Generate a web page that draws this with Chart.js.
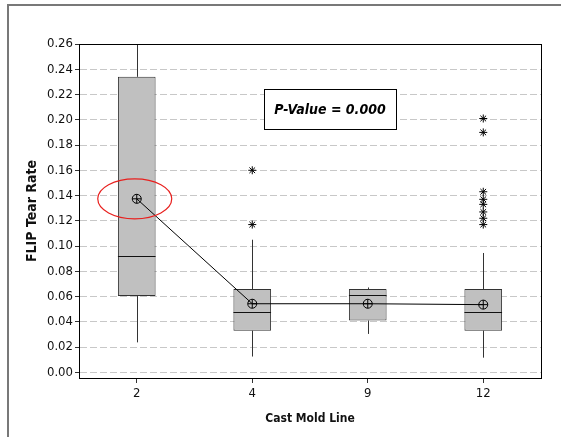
<!DOCTYPE html>
<html>
<head>
<meta charset="utf-8">
<script src="https://cdn.jsdelivr.net/npm/chart.js@4/dist/chart.umd.min.js"></script>
<style>
  html, body { margin: 0; padding: 0; background: #fff; }
  #wrap { width: 561px; height: 437px; }
</style>
</head>
<body>
<div id="wrap"><canvas id="myChart" width="561" height="437"></canvas></div>
<script>
// data
var categories = ['2', '4', '9', '12'];
var q1 = [0.0604, 0.033, 0.041, 0.033];
var q3 = [0.234, 0.066, 0.066, 0.066];
var medians = [0.092, 0.0475, 0.061, 0.0475];
var whiskerLow = [0.0237, 0.0125, 0.0304, 0.0116];
var whiskerHigh = [0.30, 0.105, 0.0672, 0.0945];
var means = [0.1374, 0.0543, 0.0543, 0.0536];
var outlierCats = ['4', '4', '12', '12', '12', '12', '12', '12', '12', '12'];
var outlierVals = [0.160, 0.117, 0.201, 0.190, 0.143, 0.137, 0.133, 0.127, 0.122, 0.117];
var yTickValues = [0, 0.02, 0.04, 0.06, 0.08, 0.10, 0.12, 0.14, 0.16, 0.18, 0.20, 0.22, 0.24, 0.26];
var pValueText = 'P-Value = 0.000';

var FONT = "'DejaVu Sans Condensed', 'DejaVu Sans', sans-serif";

var boxes = [];
var outliers = [];
for (var i = 0; i < categories.length; i++) {
    boxes.push([q1[i], q3[i]]);
}
for (var i = 0; i < outlierVals.length; i++) {
    outliers.push({x: outlierCats[i], y: outlierVals[i]});
}

var boxExtras = {
    id: 'boxExtras',
    beforeDraw: function(chart) {
        var ctx = chart.ctx;
        ctx.save();
        // outer frame (only top and left edges are visible)
        ctx.strokeStyle = '#787878';
        ctx.lineWidth = 2;
        ctx.beginPath();
        ctx.moveTo(8, chart.height);
        ctx.lineTo(8, 5);
        ctx.lineTo(chart.width, 5);
        ctx.stroke();
        ctx.restore();
    },
    afterDatasetDraw: function(chart, args) {
        if (args.index !== 0) return;
        var ctx = chart.ctx;
        var y = chart.scales.y;
        var area = chart.chartArea;
        ctx.save();
        ctx.beginPath();
        ctx.rect(area.left, area.top, area.right - area.left, area.bottom - area.top);
        ctx.clip();
        ctx.lineWidth = 1;
        args.meta.data.forEach(function(bar, i) {
            var x = Math.round(bar.x) + 0.5;
            var half = bar.width / 2;
            ctx.strokeStyle = '#333';
            ctx.beginPath();
            ctx.moveTo(x, y.getPixelForValue(q3[i]));
            ctx.lineTo(x, y.getPixelForValue(whiskerHigh[i]));
            ctx.moveTo(x, y.getPixelForValue(q1[i]));
            ctx.lineTo(x, y.getPixelForValue(whiskerLow[i]));
            ctx.stroke();
            // median
            var my = Math.round(y.getPixelForValue(medians[i])) + 0.5;
            ctx.strokeStyle = '#111';
            ctx.beginPath();
            ctx.moveTo(bar.x - half, my);
            ctx.lineTo(bar.x + half, my);
            ctx.stroke();
        });
        ctx.restore();
    },
    afterDraw: function(chart) {
        var ctx = chart.ctx;
        var area = chart.chartArea;
        var xs = chart.scales.x, ys = chart.scales.y;
        ctx.save();
        // plot area frame
        ctx.strokeStyle = '#000';
        ctx.lineWidth = 1;
        ctx.strokeRect(Math.round(area.left) + 0.5, Math.round(area.top) + 0.5,
            Math.round(area.right - area.left), Math.round(area.bottom - area.top));

        // red ellipse round the first mean
        var cx = xs.getPixelForValue(0);
        var cy = ys.getPixelForValue(means[0]);
        ctx.strokeStyle = '#e8201e';
        ctx.lineWidth = 1.2;
        ctx.beginPath();
        ctx.ellipse(cx - 2, cy, 37, 20, 0, 0, Math.PI * 2);
        ctx.stroke();

        // p-value box
        var bx = area.left + 185, by = area.top + 45, bw = 132, bh = 40;
        ctx.fillStyle = '#fff';
        ctx.fillRect(bx, by, bw, bh);
        ctx.strokeStyle = '#000';
        ctx.lineWidth = 1;
        ctx.strokeRect(bx + 0.5, by + 0.5, bw, bh);
        ctx.fillStyle = '#000';
        ctx.font = "italic bold 14px " + FONT;
        ctx.textAlign = 'center';
        ctx.textBaseline = 'middle';
        ctx.fillText(pValueText, bx + bw / 2, by + bh / 2 + 1);
        ctx.restore();
    }
};

var ctx = document.getElementById('myChart').getContext('2d');
var chart = new Chart(ctx, {
    type: 'bar',
    data: {
        labels: categories,
        datasets: [{
            type: 'bar',
            label: 'Box',
            data: boxes,
            backgroundColor: '#c0c0c0',
            borderColor: '#333',
            borderWidth: 1,
            borderSkipped: false,
            categoryPercentage: 1,
            barPercentage: 0.326,
            order: 3
        }, {
            type: 'line',
            label: 'Mean',
            data: means,
            borderColor: '#000',
            borderWidth: 1,
            pointStyle: 'circle',
            pointRadius: 4.5,
            pointBorderColor: '#000',
            pointBorderWidth: 1,
            pointBackgroundColor: 'rgba(0,0,0,0)',
            order: 1
        }, {
            type: 'line',
            label: 'MeanCross',
            data: means,
            showLine: false,
            pointStyle: 'cross',
            pointRadius: 4.5,
            pointBorderColor: '#000',
            pointBorderWidth: 1,
            order: 1
        }, {
            type: 'line',
            label: 'Outliers',
            data: outliers,
            showLine: false,
            pointStyle: 'star',
            pointRadius: 4,
            pointBorderColor: '#000',
            pointBorderWidth: 1,
            order: 2
        }]
    },
    plugins: [boxExtras],
    options: {
        responsive: false,
        animation: false,
        layout: { padding: { left: 20, right: 20, top: 44, bottom: 9 } },
        plugins: {
            legend: { display: false },
            tooltip: { enabled: false }
        },
        scales: {
            x: {
                offset: true,
                grid: {
                    offset: false,
                    drawOnChartArea: false,
                    tickLength: 5,
                    tickColor: '#333'
                },
                border: { color: '#000' },
                ticks: {
                    color: '#111',
                    padding: 3,
                    font: { family: FONT, size: 13 }
                },
                title: {
                    display: true,
                    text: 'Cast Mold Line',
                    color: '#111',
                    padding: { top: 2, bottom: 2 },
                    font: { family: FONT, size: 12, weight: 'bold' }
                },
                afterFit: function(scale) { scale.height = 50; }
            },
            y: {
                min: -0.0045,
                max: 0.26,
                afterBuildTicks: function(scale) {
                    scale.ticks = yTickValues.map(function(v) { return {value: v}; });
                },
                grid: {
                    color: '#c8c8c8',
                    tickColor: '#333',
                    tickLength: 4
                },
                border: { color: '#000', dash: [7, 3] },
                ticks: {
                    color: '#111',
                    padding: 2,
                    font: { family: FONT, size: 13 }
                    ,callback: function(v) { return Number(v).toFixed(2); }
                },
                title: {
                    display: true,
                    text: 'FLIP Tear Rate',
                    color: '#111',
                    padding: { top: 4, bottom: 2 },
                    font: { family: FONT, size: 14, weight: 'bold' }
                },
                afterFit: function(scale) { scale.width = 59; }
            }
        }
    }
});
</script>
</body>
</html>
